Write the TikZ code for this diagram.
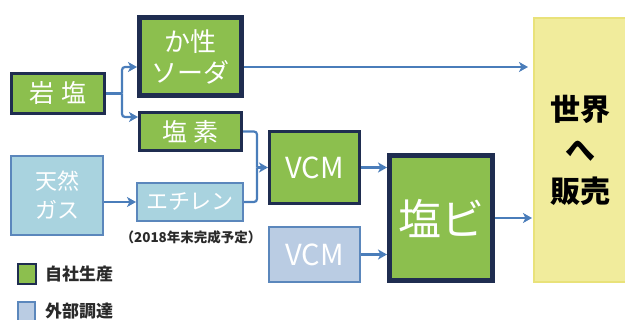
\documentclass[tikz,border=0pt]{standalone}
\usepackage{fontspec}
\setmainfont{Noto Sans CJK JP}
\usetikzlibrary{arrows.meta,calc}
\definecolor{grn}{HTML}{8CBF4E}
\definecolor{navy}{HTML}{1F2D50}
\definecolor{lblue}{HTML}{A9D3DF}
\definecolor{vblue}{HTML}{BACCE3}
\definecolor{bord}{HTML}{5B87BC}
\definecolor{arrowc}{HTML}{4A7DBA}
\definecolor{ylw}{HTML}{F1EC9C}
\definecolor{ylwb}{HTML}{E9E27A}
\definecolor{txtd}{HTML}{2A2A2A}
\begin{document}
\begin{tikzpicture}[x=1pt,y=-1pt,
  box/.style={rectangle, inner sep=0pt, align=center, text=white},
  gbox/.style={box, fill=grn, draw=navy, line width=3pt},
  gboxthick/.style={box, fill=grn, draw=navy, line width=5pt},
  bbox/.style={box, fill=lblue, draw=bord, line width=2pt},
  vbox/.style={box, fill=vblue, draw=bord, line width=2pt},
  arr/.style={draw=arrowc, line width=2.2pt, -{Stealth[length=9pt,width=10pt,inset=2.5pt]}},
  ln/.style={draw=arrowc, line width=2.2pt},
  fmid/.style={font=\fontsize{25}{30}\selectfont},
  fsmall/.style={font=\fontsize{22}{29}\selectfont}
]
\useasboundingbox (0,0) rectangle (625,320);

% nodes
\node[gbox, fmid, minimum width=93, minimum height=40] (iwa) at (58,93.5) {岩\hspace{0.25em}塩};
\node[gboxthick, font=\fontsize{26}{31}\selectfont, minimum width=102, minimum height=78] (soda) at (190.5,56.5) {か性\\ソーダ};
\node[gbox, fmid, minimum width=102, minimum height=38] (enso) at (190.5,131.5) {塩\hspace{0.25em}素};
\node[bbox, fsmall, minimum width=92, minimum height=79] (gas) at (57,195.5) {天然\\ガス};
\node[bbox, fsmall, minimum width=106, minimum height=38] (eth) at (190,202) {エチレン};
\node[gbox, font=\fontsize{29}{30}\selectfont, minimum width=90, minimum height=72] (vcma) at (314.5,167.5) {VCM};
\node[vbox, font=\fontsize{29}{30}\selectfont, minimum width=91, minimum height=55] (vcmb) at (314.5,254.5) {VCM};
\node[gboxthick, font=\fontsize{43}{44}\selectfont, minimum width=103, minimum height=125] (enbi) at (441,218) {塩ビ};
\node[box, fill=ylw, draw=ylwb, line width=2pt, text=black, font=\fontsize{30}{41}\selectfont\bfseries, minimum width=92, minimum height=264] (world) at (580,150) {世界\\へ\\販売};

\node[text=txtd, font=\fontsize{13.5}{15}\selectfont\bfseries, inner sep=0pt] (note) at (191,237.5) {（2018年末完成予定）};

% legend
\node[rectangle, fill=grn, draw=navy, line width=1.5pt, minimum width=18, minimum height=20, inner sep=0pt] (lg1) at (27,274) {};
\node[anchor=west, text=txtd, font=\fontsize{17}{18}\selectfont\bfseries, inner sep=0pt] (lt1) at (45,274) {自社生産};
\node[rectangle, fill=vblue, draw=bord, line width=1.5pt, minimum width=17, minimum height=20, inner sep=0pt] (lg2) at (26.5,312) {};
\node[anchor=west, text=txtd, font=\fontsize{17}{18}\selectfont\bfseries, inner sep=0pt] (lt2) at (45,311) {外部調達};

% connectors
\coordinate (br) at (122,93.5);
\coordinate (jn) at (257,167.5);
\draw[ln] (iwa.east) -- (br);
\draw[arr, rounded corners=3pt] (br) |- ([yshift=-10.5pt]soda.west);
\draw[arr, rounded corners=3pt] (br) |- ([yshift=14.5pt]enso.west);
\draw[arr, shorten >=5pt] ([yshift=-10.5pt]soda.east) -- ([yshift=-10.5pt]soda.east -| world.west);
\draw[arr] (gas.east |- eth.west) -- (eth.west);
\draw[ln, rounded corners=3pt] (enso.east) -| (jn);
\draw[ln, rounded corners=3pt] (eth.east) -| (jn);
\draw[arr] (jn) -- (vcma.west);
\draw[arr] (vcma.east) -- (vcma.east -| enbi.west);
\draw[arr] (vcmb.east) -- (vcmb.east -| enbi.west);
\draw[arr, shorten >=1pt] (enbi.east) -- (enbi.east -| world.west);
\end{tikzpicture}
\end{document}
